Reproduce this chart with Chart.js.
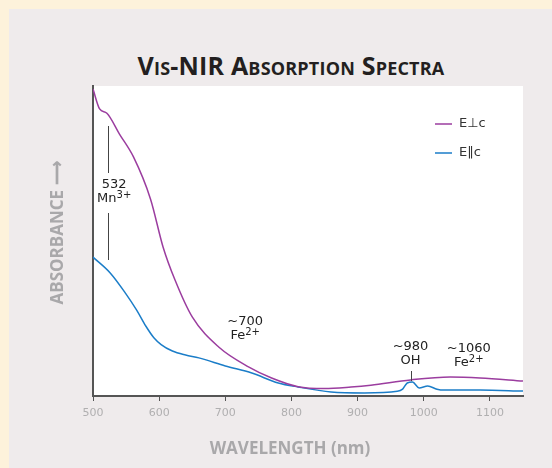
<!DOCTYPE html>
<html>
<head>
<meta charset="utf-8">
<script src="https://cdn.jsdelivr.net/npm/chart.js@4"></script>
<style>
  body { margin: 0; background: #fdf2db; }
  #panel { position: absolute; left: 9px; top: 9px; width: 543px; height: 459px; background: #efebec; }
  #title { position: absolute; left: 0; width: 582px; top: 48px; text-align: center;
    font: bold 25px "Open Sans", sans-serif; font-variant: small-caps; color: #231f20; letter-spacing: 0.2px; }
  canvas { position: absolute; left: 0; top: 0; }
</style>
</head>
<body>
<div id="panel"></div>
<div id="title">Vis-NIR Absorption Spectra</div>
<canvas id="chart" width="552" height="468"></canvas>
<script>
// wavelength (nm) and relative absorbance
const perpNm  = [500, 510, 521, 540, 561, 587, 606, 624, 650, 690, 735, 770, 810, 850, 890, 920, 980, 1040, 1085, 1150];
const perpAbs = [99, 92.6, 91.2, 84.5, 77.2, 63.5, 48, 37.4, 25.5, 15.8, 9.4, 5.8, 3, 2.4, 2.9, 3.5, 5.2, 6.1, 5.8, 4.8];

const paraNm  = [500, 526, 549, 566, 580, 592, 603, 620, 640, 660, 700, 740, 780, 810, 860, 910, 960, 968, 975, 983, 993, 1006, 1020, 1030, 1085, 1150];
const paraAbs = [44.8, 39.7, 33.2, 27.7, 22.5, 18.8, 16.6, 14.5, 13.2, 12.3, 9.7, 7.4, 4.2, 2.9, 1.3, 1, 1.5, 2.2, 4.2, 4.5, 2.6, 3.2, 2.2, 1.9, 1.9, 1.6];

const seriesNames = ["E\u22a5c", "E\u2016c"];
const seriesColors = ["#9b3d9f", "#1b7dc8"];

const xTicks = [500, 600, 700, 800, 900, 1000, 1100];

// band labels: [top line, main text, superscript, wavelength]
const bands = [
  ["532", "Mn", "3+", 532],
  ["~700", "Fe", "2+", 730],
  ["~980", "OH", "", 980],
  ["~1060", "Fe", "2+", 1068]
];

function toPoints(xs, ys) {
  return xs.map((x, i) => ({ x: x, y: ys[i] }));
}

const decor = {
  id: "decor",
  beforeDraw(chart) {
    const { ctx, chartArea: a } = chart;
    ctx.save();
    ctx.fillStyle = "#ffffff";
    ctx.fillRect(a.left, a.top, a.right - a.left, a.bottom - a.top);
    ctx.restore();
  },
  afterDraw(chart) {
    const { ctx } = chart;
    const xs = chart.scales.x, ys = chart.scales.y;
    ctx.save();

    // axis titles
    ctx.fillStyle = "#a9a8aa";
    ctx.font = "bold 17px 'Open Sans', sans-serif";
    ctx.textAlign = "center";
    ctx.textBaseline = "middle";
    ctx.fillText("WAVELENGTH (nm)", 290, 449);
    ctx.save();
    ctx.translate(58, 233);
    ctx.rotate(-Math.PI / 2);
    ctx.fillText("ABSORBANCE \u27f6", 0, 0);
    ctx.restore();

    // band labels
    ctx.fillStyle = "#222";
    const labelY = [185, 322, 347, 349];
    bands.forEach((b, i) => {
      let cx = xs.getPixelForValue(b[3]);
      let y = labelY[i];
      ctx.font = "13px 'DejaVu Sans', sans-serif";
      ctx.textAlign = "center";
      ctx.fillText(b[0], cx, y);
      const w1 = ctx.measureText(b[1]).width;
      ctx.font = "10px 'DejaVu Sans', sans-serif";
      const w2 = b[2] ? ctx.measureText(b[2]).width : 0;
      let left = cx - (w1 + w2) / 2;
      ctx.textAlign = "left";
      ctx.font = "13px 'DejaVu Sans', sans-serif";
      ctx.fillText(b[1], left, y + 14);
      ctx.font = "10px 'DejaVu Sans', sans-serif";
      ctx.fillText(b[2], left + w1, y + 10);
    });

    // marker lines
    ctx.strokeStyle = "#444";
    ctx.lineWidth = 1;
    const mx = Math.round(xs.getPixelForValue(523)) + 0.5;
    ctx.beginPath();
    ctx.moveTo(mx, 126); ctx.lineTo(mx, 173);
    ctx.moveTo(mx, 213); ctx.lineTo(mx, 260);
    const ox = Math.round(xs.getPixelForValue(981)) + 0.5;
    ctx.moveTo(ox, 371); ctx.lineTo(ox, ys.getPixelForValue(4.8));
    ctx.stroke();

    // legend
    ctx.font = "13px 'DejaVu Sans', sans-serif";
    ctx.textAlign = "left";
    seriesNames.forEach((name, i) => {
      const y = 124 + i * 29;
      ctx.strokeStyle = seriesColors[i];
      ctx.lineWidth = 1.5;
      ctx.beginPath();
      ctx.moveTo(435, y); ctx.lineTo(452, y);
      ctx.stroke();
      ctx.fillStyle = "#333";
      ctx.fillText(name, 459, y);
    });
    ctx.restore();
  }
};

new Chart(document.getElementById("chart"), {
  type: "line",
  data: {
    datasets: [
      { label: seriesNames[0], data: toPoints(perpNm, perpAbs), borderColor: seriesColors[0] },
      { label: seriesNames[1], data: toPoints(paraNm, paraAbs), borderColor: seriesColors[1] }
    ]
  },
  options: {
    responsive: false,
    animation: false,
    events: [],
    layout: { padding: { left: 0, top: 86, right: 29, bottom: 0 } },
    elements: {
      point: { radius: 0 },
      line: { borderWidth: 1.5, cubicInterpolationMode: "monotone", fill: false }
    },
    plugins: { legend: { display: false }, tooltip: { enabled: false } },
    scales: {
      x: {
        type: "linear", min: 500, max: 1150,
        afterFit(s) { s.height = 72; },
        afterBuildTicks(s) { s.ticks = xTicks.map(v => ({ value: v })); },
        ticks: { color: "#b0afb0", font: { family: "'DejaVu Sans', sans-serif", size: 11 }, padding: 6,
          callback: v => String(v) },
        grid: { drawOnChartArea: false, drawTicks: true, tickLength: 5, tickColor: "#555" },
        border: { color: "#555", width: 2 }
      },
      y: {
        min: 0, max: 100,
        afterFit(s) { s.width = 93; },
        ticks: { display: false },
        grid: { display: false },
        border: { color: "#555", width: 2 }
      }
    }
  },
  plugins: [decor]
});
</script>
</body>
</html>
